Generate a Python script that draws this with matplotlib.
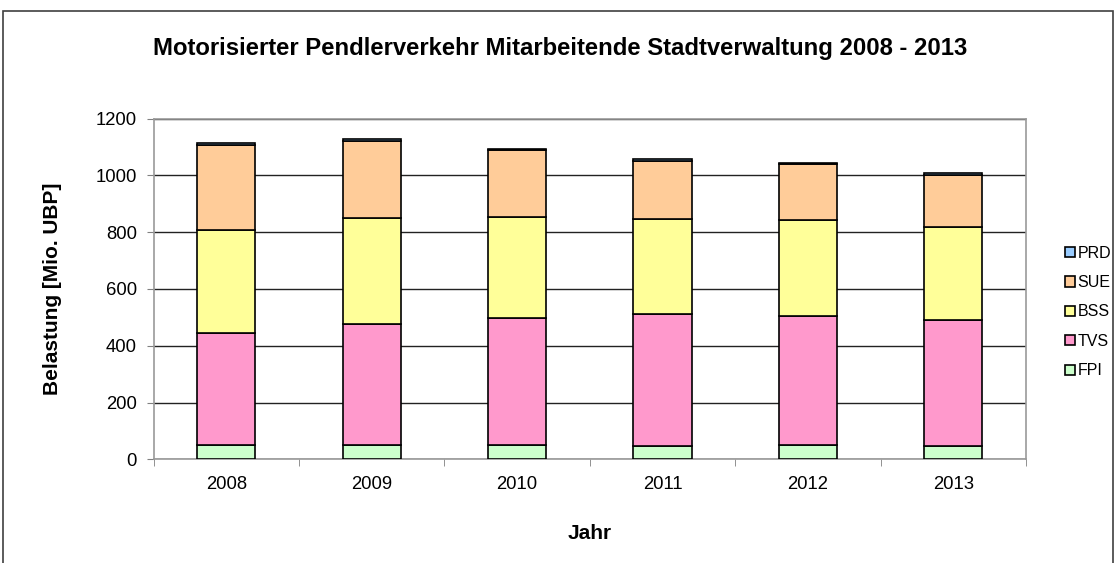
import numpy as np
import matplotlib.pyplot as plt
from matplotlib.patches import Rectangle

jahre = ["2008", "2009", "2010", "2011", "2012", "2013"]
fpi = [52, 52, 52, 48, 52, 46]
tvs = [394, 426, 446, 465, 454, 444]
bss = [362, 371, 357, 335, 337, 330]
sue = [300, 272, 235, 204, 197, 183]
prd = [7, 6, 5, 6, 4, 6]

serien = [
    ("FPI", fpi, "#CCFFCC"),
    ("TVS", tvs, "#FF99CC"),
    ("BSS", bss, "#FFFF99"),
    ("SUE", sue, "#FFCC99"),
    ("PRD", prd, "#99CCFF"),
]

plt.rcParams["font.family"] = ["Liberation Sans", "DejaVu Sans"]

W, H = 1116, 563
fig = plt.figure(figsize=(W / 100, H / 100), dpi=100)
fig.patches.append(Rectangle((3 / W, -0.05), 1110 / W, 1.05 - 11 / H,
                             transform=fig.transFigure, fill=False,
                             edgecolor="#404040", linewidth=1.2))

ax = fig.add_axes([153.5 / W, 1 - 459.3 / H, (1026 - 153.5) / W, (459.3 - 118.7) / H])

x = np.arange(len(jahre))
unten = np.zeros(len(jahre))
handles = []
for name, werte, farbe in serien:
    b = ax.bar(x, werte, width=0.4, bottom=unten, color=farbe,
               edgecolor="black", linewidth=1.2, label=name, zorder=3)
    handles.append(b)
    unten += np.array(werte)

ax.set_xlim(-0.5, len(jahre) - 0.5)
ax.set_ylim(0, 1200)
ax.set_yticks(range(0, 1201, 200))
ax.yaxis.grid(True, color="#222222", linewidth=1.0, zorder=0)
ax.set_xticks(x)
ax.set_xticklabels(jahre, fontsize=13.3)
ax.set_xticks(np.arange(-0.5, len(jahre)), minor=True)
ax.tick_params(axis="x", which="major", length=0, pad=12)
ax.tick_params(axis="x", which="minor", length=5, color="#808080", direction="out")
ax.tick_params(axis="y", labelsize=13.3, length=5, color="#808080", direction="out", pad=7)
for s in ax.spines.values():
    s.set_color("#999999")
    s.set_linewidth(1.2)

ax.set_ylabel("Belastung [Mio. UBP]", fontsize=15, fontweight="bold", labelpad=24)
ax.set_xlabel("Jahr", fontsize=15, fontweight="bold", labelpad=22)
fig.text(560 / W, 1 - 48 / H, "Motorisierter Pendlerverkehr Mitarbeitende Stadtverwaltung 2008 - 2013",
         ha="center", va="center", fontsize=17.2, fontweight="bold")

leg = fig.legend(handles[::-1], [s[0] for s in serien][::-1],
                 loc="center left", bbox_to_anchor=(1059 / W, 1 - 312 / H),
                 frameon=False, fontsize=11.5, handlelength=0.6, handleheight=0.6,
                 handletextpad=0.15, labelspacing=0.9, borderaxespad=0)

fig.savefig("out.png", dpi=100)
